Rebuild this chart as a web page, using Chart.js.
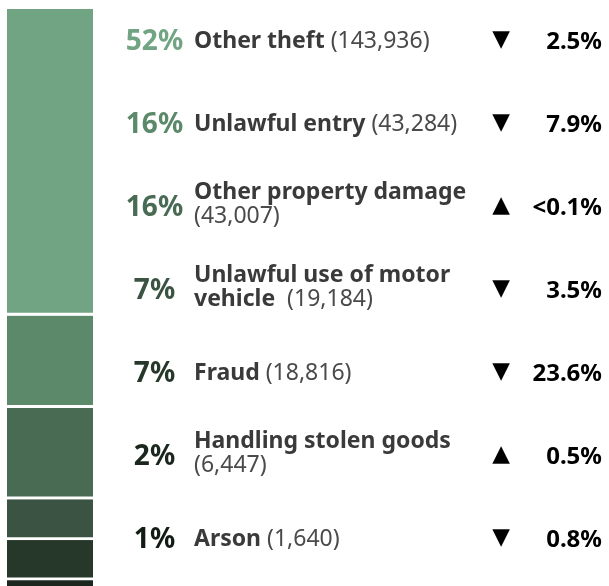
<!DOCTYPE html>
<html>
<head>
<meta charset="utf-8">
<script src="https://cdn.jsdelivr.net/npm/chart.js@4.4.1/dist/chart.umd.min.js"></script>
<style>
  html, body { margin: 0; padding: 0; background: #fff; }
  #wrap { position: relative; width: 609px; height: 586px; }
</style>
</head>
<body>
<div id="wrap"><canvas id="offenceChart"></canvas></div>
<script>
// Offence groups, top to bottom
const categories = ['Other theft', 'Unlawful entry', 'Other property damage',
    'Unlawful use of motor vehicle', 'Fraud', 'Handling stolen goods', 'Arson'];
const offenceCounts = [143936, 43284, 43007, 19184, 18816, 6447, 1640];
const shareLabels = ['52%', '16%', '16%', '7%', '7%', '2%', '1%'];
const changeDirections = ['down', 'down', 'up', 'down', 'down', 'up', 'down'];
const changeLabels = ['2.5%', '7.9%', '<0.1%', '3.5%', '23.6%', '0.5%', '0.8%'];

const greens = ['#71a483', '#5b8969', '#496b54', '#3a5342', '#26382a', '#1b271e', '#131b15'];
const FONT = '"Noto Sans"';

// Text rows on the right of the bar
const rowLabels = {
    id: 'rowLabels',
    afterDraw(chart) {
        const ctx = chart.ctx;
        const firstRow = 39.5, rowGap = 83.0;
        const nameX = 194, maxWidth = 300;
        ctx.save();
        categories.forEach((name, i) => {
            const cy = firstRow + rowGap * i;

            // word wrap of bold name + regular count
            const tokens = name.split(' ').map(w => ({ text: w, bold: true }));
            tokens.push({ text: '(' + offenceCounts[i].toLocaleString('en-US') + ')', bold: false });
            const lines = [[]];
            let lineW = 0;
            tokens.forEach(tok => {
                ctx.font = (tok.bold ? 'bold ' : '') + '23px ' + FONT;
                const w = ctx.measureText(tok.text).width;
                const sp = ctx.measureText(' ').width;
                const cur = lines[lines.length - 1];
                if (cur.length && lineW + sp + w > maxWidth) {
                    lines.push([tok]);
                    lineW = w;
                } else {
                    lineW += (cur.length ? sp : 0) + w;
                    cur.push(tok);
                }
            });

            const lineH = 24;
            let baseY = cy + 8.5 - (lines.length - 1) * lineH / 2 - (lines.length > 1 ? 3 : 0);
            ctx.textAlign = 'left';
            ctx.textBaseline = 'alphabetic';
            lines.forEach(line => {
                let x = nameX;
                line.forEach((tok, k) => {
                    ctx.font = (tok.bold ? 'bold ' : '') + '23px ' + FONT;
                    ctx.fillStyle = tok.bold ? '#3a3a3a' : '#4a4a4a';
                    if (k > 0) {
                        x += ctx.measureText(' ').width;
                        if (!tok.bold && line[k - 1].bold && lines.length > 1) x += 6;
                    }
                    ctx.fillText(tok.text, x, baseY);
                    x += ctx.measureText(tok.text).width;
                });
                baseY += lineH;
            });

            // share of total
            ctx.font = 'bold 28px ' + FONT;
            ctx.fillStyle = greens[i];
            ctx.textAlign = 'center';
            ctx.fillText(shareLabels[i], 154.5, cy + 10);

            // direction arrow
            ctx.font = '23px "DejaVu Sans"';
            ctx.fillStyle = '#000';
            ctx.textBaseline = 'middle';
            ctx.fillText(changeDirections[i] === 'up' ? '▲' : '▼', 501, cy + 1);

            // change value
            ctx.textBaseline = 'alphabetic';
            ctx.font = 'bold 24px ' + FONT;
            ctx.textAlign = 'right';
            ctx.fillText(changeLabels[i], 602, cy + 9);
        });
        ctx.restore();
    }
};

function drawChart() {
    const ctx = document.getElementById('offenceChart').getContext('2d');
    new Chart(ctx, {
        type: 'bar',
        data: {
            labels: ['All property offences'],
            datasets: categories.map((name, i) => ({
                label: name,
                data: [offenceCounts[i]],
                backgroundColor: greens[i],
                borderColor: '#ffffff',
                borderWidth: { top: 0, right: 0, bottom: 3, left: 0 },
                borderSkipped: false,
                barPercentage: 1,
                categoryPercentage: 1
            }))
        },
        options: {
            responsive: true,
            maintainAspectRatio: false,
            animation: false,
            layout: { padding: { top: 9, left: 7, right: 516, bottom: 0 } },
            plugins: { legend: { display: false }, tooltip: { enabled: false } },
            scales: {
                x: { stacked: true, display: false },
                y: { stacked: true, display: false, reverse: true, min: 0, max: 271000 }
            }
        },
        plugins: [rowLabels]
    });
}

// canvas text needs the fonts loaded first
Promise.all([
    document.fonts.load('bold 23px ' + FONT),
    document.fonts.load('23px ' + FONT),
    document.fonts.load('23px "DejaVu Sans"', '▲▼')
]).then(drawChart, drawChart);
</script>
</body>
</html>
